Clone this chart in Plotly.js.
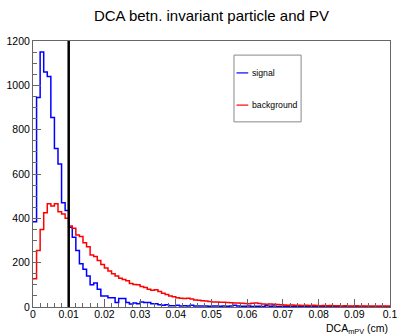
<!DOCTYPE html>
<html>
<head>
<meta charset="utf-8">
<script src="https://cdn.plot.ly/plotly-3.0.1.min.js"></script>
<style>html,body{margin:0;padding:0;background:#fff;}#chart{width:399px;height:335px;}</style>
</head>
<body>
<div id="chart"></div>
<script>
// Histogram binning
const binLow = 0.0;
const binWidth = 0.001;
const cutValue = 0.01;

// Signal counts per bin (100 bins, 0 - 0.1 cm)
const signalCounts = [
  385, 945, 1150, 1060, 1040, 855, 715, 645, 470, 435,
  360, 315, 255, 195, 170, 140, 100, 108, 80, 50,
  50, 42, 42, 20, 38, 38, 20, 14, 18, 15,
  22, 20, 20, 15, 15, 10, 8, 10, 6, 6,
  8, 5, 6, 5, 8, 5, 4, 5, 4, 3,
  4, 5, 3, 4, 3, 5, 8, 4, 3, 3,
  4, 2, 3, 3, 2, 6, 3, 4, 2, 2,
  3, 2, 2, 3, 2, 2, 1, 2, 2, 1,
  2, 1, 2, 1, 1, 2, 1, 1, 2, 1,
  1, 1, 2, 1, 1, 1, 1, 1, 1, 1
];

// Background counts per bin
const backgroundCounts = [
  128, 255, 350, 425, 466, 456, 466, 430, 420, 400,
  365, 355, 325, 318, 290, 272, 235, 228, 210, 192,
  176, 162, 150, 140, 130, 124, 118, 106, 102, 100,
  93, 88, 80, 76, 78, 70, 62, 56, 50, 46,
  42, 40, 38, 40, 36, 32, 30, 28, 27, 25,
  23, 22, 21, 21, 20, 19, 18, 18, 17, 16,
  15, 17, 18, 16, 13, 12, 14, 12, 11, 10,
  9, 8, 9, 8, 8, 7, 8, 7, 8, 7,
  6, 7, 6, 7, 6, 6, 5, 6, 5, 5,
  6, 5, 5, 4, 5, 4, 5, 4, 4, 4
];

const seriesNames = ["signal", "background"];
const seriesColors = ["#0000ff", "#ff0000"];

function stepXY(counts) {
  const xs = [], ys = [];
  for (let i = 0; i < counts.length; i++) {
    xs.push(binLow + i * binWidth);
    ys.push(counts[i]);
  }
  xs.push(binLow + counts.length * binWidth);
  ys.push(counts[counts.length - 1]);
  return {x: xs, y: ys};
}

const s = stepXY(signalCounts);
const b = stepXY(backgroundCounts);

const traces = [
  {x: s.x, y: s.y, type: 'scatter', mode: 'lines', line: {shape: 'hv', color: seriesColors[0], width: 1.5}, name: seriesNames[0], showlegend: false, hoverinfo: 'skip'},
  {x: b.x, y: b.y, type: 'scatter', mode: 'lines', line: {shape: 'hv', color: seriesColors[1], width: 1.5}, name: seriesNames[1], showlegend: false, hoverinfo: 'skip'}
];

const axisCol = '#666';
const font = "'Liberation Sans', Arial, Helvetica, sans-serif";

// Manual ROOT-style legend box (paper coords)
const legX0 = 0.563, legX1 = 0.751, legY0 = 0.696, legY1 = 0.947;
const legRowY = [0.880, 0.759];

const shapes = [
  {type: 'line', xref: 'x', yref: 'y', x0: cutValue, x1: cutValue, y0: 0, y1: 1200, line: {color: '#000', width: 2.5}},
  {type: 'rect', xref: 'paper', yref: 'paper', x0: legX0, x1: legX1, y0: legY0, y1: legY1, line: {color: '#888', width: 1}, fillcolor: '#fff', layer: 'above'}
];
const annotations = [];
seriesNames.forEach((n, i) => {
  shapes.push({type: 'line', xref: 'paper', yref: 'paper', x0: legX0 + 0.007, x1: legX0 + 0.04, y0: legRowY[i], y1: legRowY[i], line: {color: seriesColors[i], width: 1.2}, layer: 'above'});
  annotations.push({xref: 'paper', yref: 'paper', x: legX0 + 0.046, y: legRowY[i], xanchor: 'left', yanchor: 'middle', text: n, showarrow: false, font: {family: font, size: 8.7, color: '#000'}});
});
annotations.push({xref: 'paper', yref: 'paper', x: 1.0, y: -0.082, xanchor: 'right', yanchor: 'middle', text: 'DCA<sub>mPV</sub> (cm)', showarrow: false, font: {family: font, size: 10.5, color: '#000'}});

const layout = {
  width: 399, height: 335,
  margin: {l: 33, r: 9, t: 41, b: 28, pad: 0},
  paper_bgcolor: '#fff', plot_bgcolor: '#fff',
  font: {family: font, color: '#000'},
  title: {text: 'DCA betn. invariant particle and PV', x: 0.5, xref: 'paper', y: 0.952, yref: 'container', xanchor: 'center', yanchor: 'middle', font: {family: font, size: 15, color: '#000'}},
  xaxis: {
    range: [0, 0.1], dtick: 0.01, tick0: 0, showgrid: false, zeroline: false,
    ticks: 'inside', ticklen: 8, tickcolor: axisCol, tickwidth: 1,
    minor: {dtick: 0.002, ticks: 'inside', ticklen: 4, tickcolor: axisCol, showgrid: false},
    showline: true, linecolor: axisCol, linewidth: 1, mirror: true,
    ticklabelstandoff: -3,
    tickfont: {family: font, size: 10.5, color: '#000'}, fixedrange: true
  },
  yaxis: {
    range: [0, 1200], dtick: 200, tick0: 0, showgrid: false, zeroline: false,
    ticks: 'inside', ticklen: 8, tickcolor: axisCol, tickwidth: 1,
    minor: {dtick: 50, ticks: 'inside', ticklen: 4, tickcolor: axisCol, showgrid: false},
    showline: true, linecolor: axisCol, linewidth: 1, mirror: true,
    tickfont: {family: font, size: 10.5, color: '#000'}, fixedrange: true
  },
  shapes: shapes,
  annotations: annotations,
  showlegend: false
};

Plotly.newPlot('chart', traces, layout, {displayModeBar: false, staticPlot: true});
</script>
</body>
</html>
